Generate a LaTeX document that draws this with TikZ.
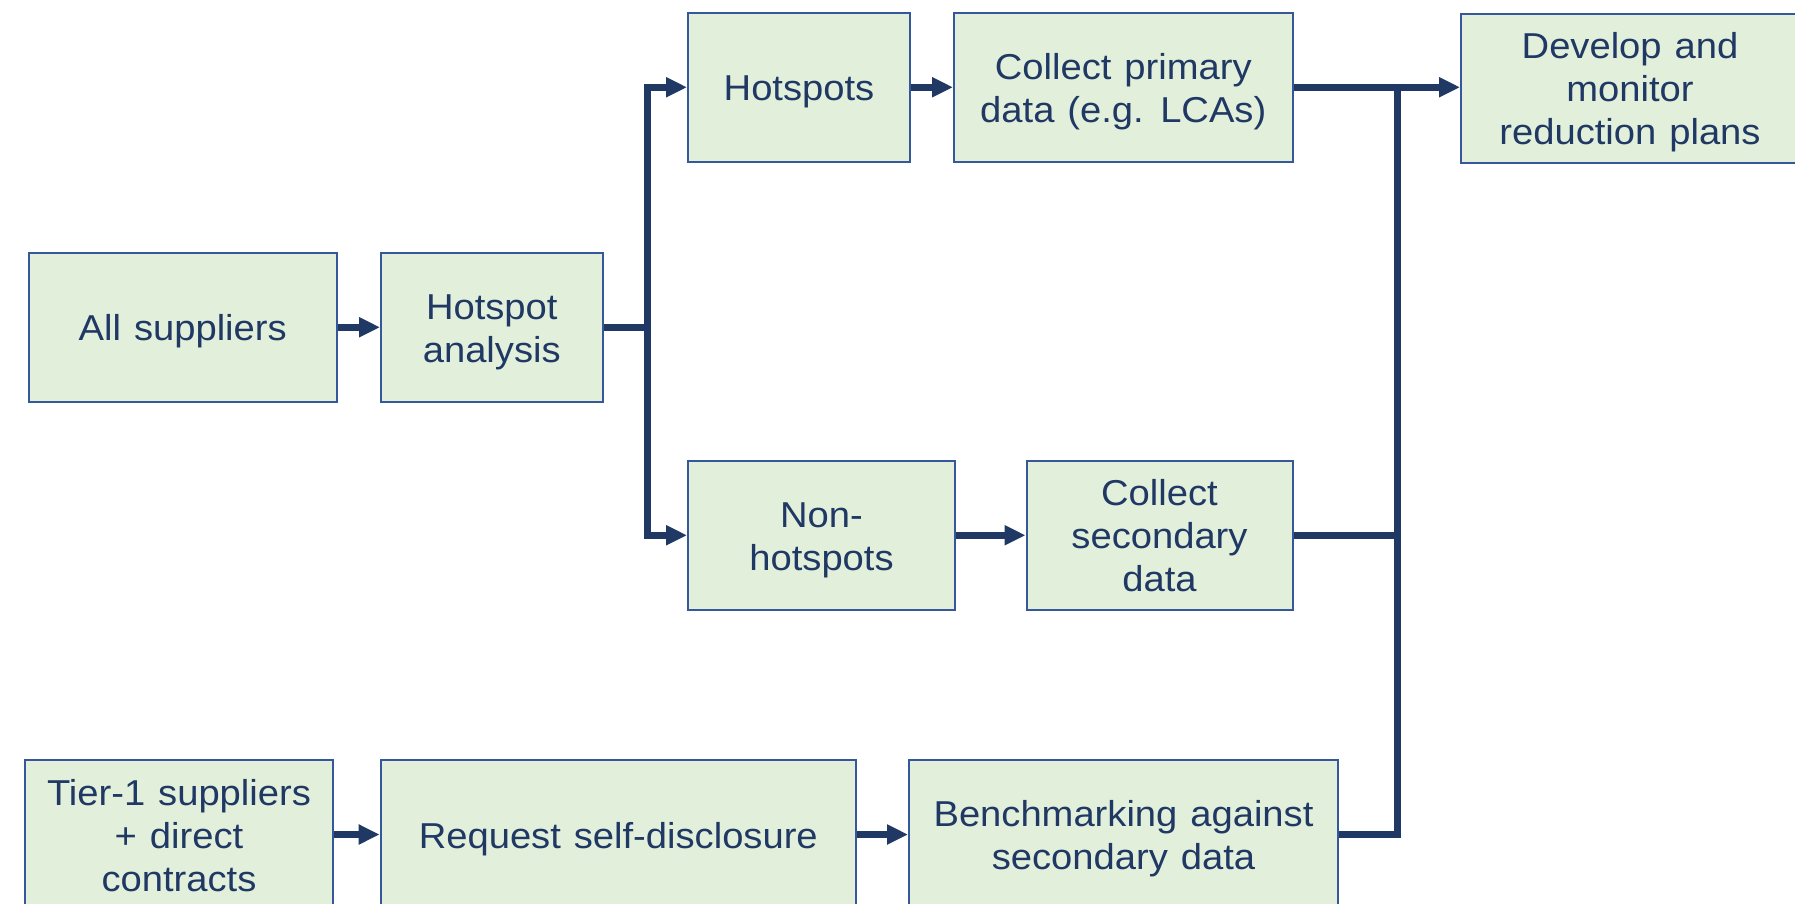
\documentclass[tikz,border=0pt]{standalone}
\usepackage{fontspec}
\setmainfont{Liberation Sans}[FakeStretch=1.06]
\usetikzlibrary{arrows.meta}
\definecolor{boxfill}{HTML}{E2EFDA}
\definecolor{boxline}{HTML}{34589A}
\definecolor{conn}{HTML}{1F3864}
\definecolor{txt}{HTML}{1F3864}
\newcommand\myboxfont{\fontsize{36}{43}\selectfont\spaceskip=0.36em plus 0.1em\relax}
\newcommand\ls{\rule[-7.6pt]{0pt}{42.2pt}}
\tikzset{
  box/.style={draw=boxline, fill=boxfill, line width=2pt, inner sep=0pt,
    align=center, text=txt, font=\myboxfont},
  conline/.style={draw=conn, line width=7pt, line join=miter},
  conarrow/.style={conline, -{Triangle[length=21pt,width=19pt]}}
}
\begin{document}
\begin{tikzpicture}[x=1pt,y=-1pt]
\useasboundingbox (0,0) rectangle (1795,903);
\node[box, minimum width=308.5pt, minimum height=148.5pt] (all) at (182.75,327.25) {\ls All suppliers};
\node[box, minimum width=221.5pt, minimum height=148.5pt] (ha) at (491.75,327.25) {\ls Hotspot\\\ls analysis};
\node[box, minimum width=222pt, minimum height=149.5pt] (hs) at (799,87.25) {\ls Hotspots};
\node[box, minimum width=338.5pt, minimum height=149.5pt] (cpd) at (1123.25,87.25) {\ls Collect primary\\\ls data (e.g. LCAs)};
\node[box, minimum width=338pt, minimum height=149pt] (dev) at (1630,88) {\ls Develop and\\\ls monitor\\\ls reduction plans};
\node[box, minimum width=267pt, minimum height=149.5pt] (nh) at (821.5,535.25) {\ls Non-\\\ls hotspots};
\node[box, minimum width=266pt, minimum height=149.5pt] (csd) at (1159.5,535.25) {\ls Collect\\\ls secondary\\\ls data};
\node[box, minimum width=308pt, minimum height=149pt] (tier) at (179,834.5) {\ls Tier-1 suppliers\\\ls + direct\\\ls contracts};
\node[box, minimum width=475.4pt, minimum height=149pt] (req) at (618.3,834.5) {\ls Request self-disclosure};
\node[box, minimum width=429pt, minimum height=149pt] (bench) at (1123.5,834.5) {\ls Benchmarking against\\\ls secondary data};
\coordinate (j1) at (647,327.25);
\coordinate (j2) at (1397.5,87.25);
\draw[conarrow] (all.east) -- (ha.west);
\draw[conline] (ha.east) -- (j1);
\draw[conarrow] (j1) |- (hs.west);
\draw[conarrow] (j1) |- (nh.west);
\draw[conarrow] (hs.east) -- (cpd.west);
\draw[conarrow] (nh.east) -- (csd.west);
\draw[conarrow] (cpd.east) -- (cpd.east -| dev.west);
\draw[conline] (bench.east) -| (j2);
\draw[conline] (csd.east) -- (csd.east -| j2);
\draw[conarrow] (tier.east) -- (req.west);
\draw[conarrow] (req.east) -- (bench.west);
\end{tikzpicture}
\end{document}
